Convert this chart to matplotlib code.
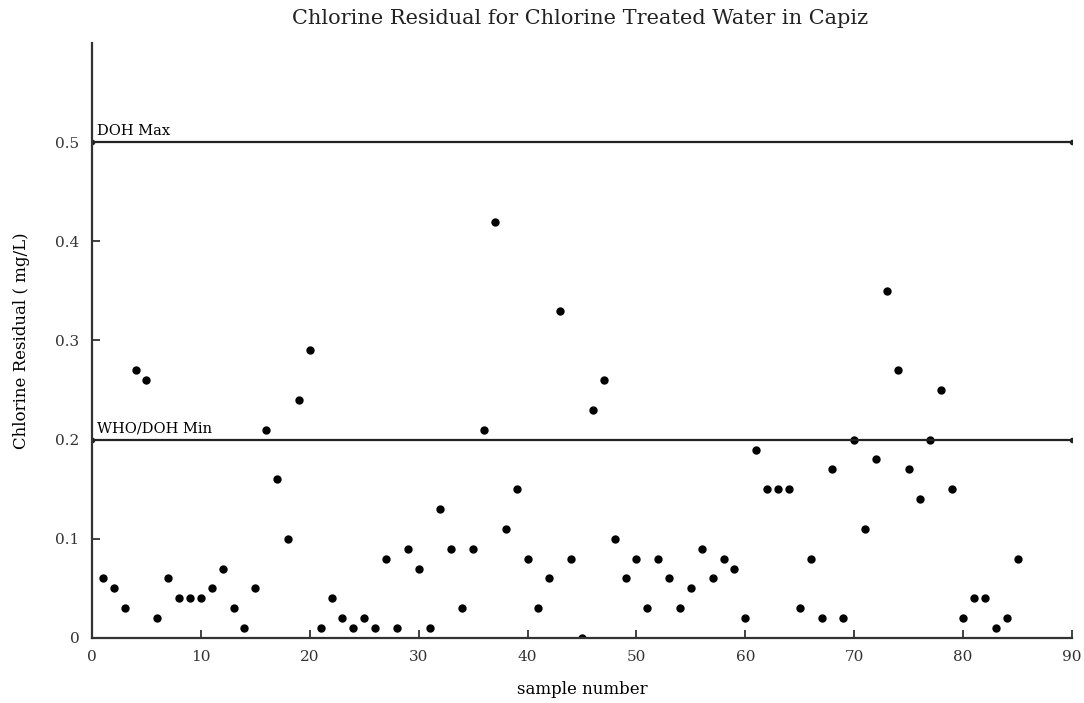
import matplotlib
matplotlib.use('Agg')
import matplotlib.pyplot as plt
import numpy as np

# chlorine residual (mg/L) per sample, samples 1..85
sample_no = list(range(1, 86))
residual = [0.06, 0.05, 0.03, 0.27, 0.26, 0.02, 0.06, 0.04, 0.04, 0.04,
            0.05, 0.07, 0.03, 0.01, 0.05, 0.21, 0.16, 0.10, 0.24, 0.29,
            0.01, 0.04, 0.02, 0.01, 0.02, 0.01, 0.08, 0.01, 0.09, 0.07,
            0.01, 0.13, 0.09, 0.03, 0.09, 0.21, 0.42, 0.11, 0.15, 0.08,
            0.03, 0.06, 0.33, 0.08, 0.00, 0.23, 0.26, 0.10, 0.06, 0.08,
            0.03, 0.08, 0.06, 0.03, 0.05, 0.09, 0.06, 0.08, 0.07, 0.02,
            0.19, 0.15, 0.15, 0.15, 0.03, 0.08, 0.02, 0.17, 0.02, 0.20,
            0.11, 0.18, 0.35, 0.27, 0.17, 0.14, 0.20, 0.25, 0.15, 0.02,
            0.04, 0.04, 0.01, 0.02, 0.08]

# reference limits
limit_x = [0, 90]
doh_max = 0.5
who_min = 0.2

plt.rcParams['font.family'] = ['DejaVu Serif']

fig = plt.figure(figsize=(10.84, 7.03), dpi=100)
ax = fig.add_axes([0.0849, 0.0925, 0.904, 0.8463])

ax.plot(sample_no, residual, 'o', color='black', markersize=5)
ax.plot(limit_x, [doh_max, doh_max], '.-', color='#222222', lw=1.6, markersize=6)
ax.plot(limit_x, [who_min, who_min], '.-', color='#222222', lw=1.6, markersize=6)

ax.text(0.5, doh_max + 0.004, 'DOH Max', fontsize=10.5, va='bottom', ha='left')
ax.text(0.5, who_min + 0.004, 'WHO/DOH Min', fontsize=10.5, va='bottom', ha='left')

ax.set_xlim(0, 90)
ax.set_ylim(0, 0.6)
ax.set_xticks(np.arange(0, 91, 10))
ax.set_yticks([0, 0.1, 0.2, 0.3, 0.4, 0.5])
ax.set_yticklabels(['0', '0.1', '0.2', '0.3', '0.4', '0.5'])
ax.tick_params(direction='in', length=6, width=1.3, labelsize=11,
               colors='#333333', pad=9)

for s in ['top', 'right']:
    ax.spines[s].set_visible(False)
for s in ['left', 'bottom']:
    ax.spines[s].set_linewidth(1.6)
    ax.spines[s].set_color('#333333')

ax.set_xlabel('sample number', fontsize=12, labelpad=12)
ax.set_ylabel('Chlorine Residual ( mg/L)', fontsize=12, labelpad=18)
fig.text(0.535, 0.974, 'Chlorine Residual for Chlorine Treated Water in Capiz',
         fontsize=15, ha='center', va='center', color='#222222')

fig.savefig('out.png', dpi=100)
